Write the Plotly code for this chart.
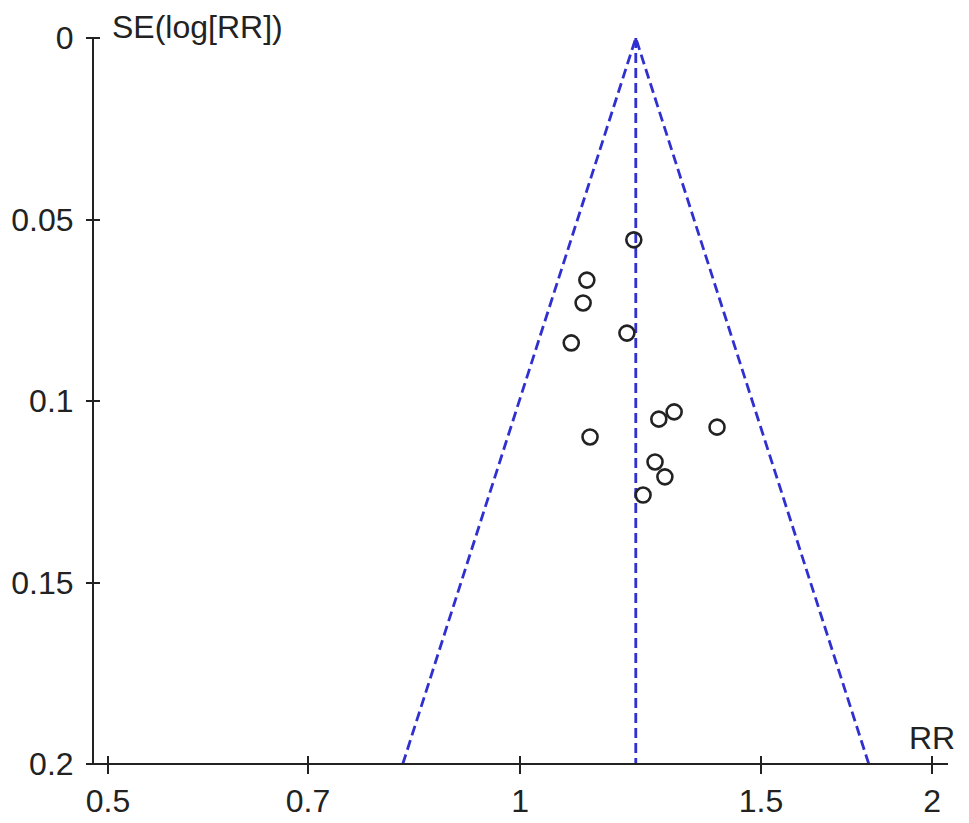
import plotly.graph_objects as go
import numpy as np

# Study data
rr = [1.211, 1.119, 1.112, 1.197, 1.090, 1.125, 1.263, 1.296, 1.393, 1.255, 1.276, 1.230]
se = [0.0556, 0.0667, 0.0730, 0.0813, 0.0840, 0.1099, 0.1050, 0.1030, 0.1072, 0.1168, 0.1209, 0.1259]
pooled_rr = 1.215
se_max = 0.2

x_tickvals = [0.5, 0.7, 1, 1.5, 2]
x_ticktext = ["0.5", "0.7", "1", "1.5", "2"]
y_tickvals = [0, 0.05, 0.1, 0.15, 0.2]
y_ticktext = ["0", "0.05", "0.1", "0.15", "0.2"]

FONT = "Liberation Sans, Arial, Helvetica, sans-serif"
FS = 32
BLUE = "#3030d0"
DARK = "#222222"

# funnel limits (95% pseudo-confidence)
funnel_x = [pooled_rr * np.exp(-1.96 * se_max), pooled_rr, pooled_rr * np.exp(1.96 * se_max)]
funnel_y = [se_max, 0, se_max]

fig = go.Figure()
fig.add_trace(go.Scatter(x=funnel_x, y=funnel_y, mode="lines",
                         line=dict(color=BLUE, width=2.8, dash="10px,5px"),
                         hoverinfo="skip", showlegend=False, cliponaxis=False))
fig.add_trace(go.Scatter(x=[pooled_rr, pooled_rr], y=[0, se_max], mode="lines",
                         line=dict(color=BLUE, width=2.8, dash="10px,5px"),
                         hoverinfo="skip", showlegend=False, cliponaxis=False))
fig.add_trace(go.Scatter(x=rr, y=se, mode="markers",
                         marker=dict(symbol="circle-open", size=15, color=DARK,
                                     line=dict(color=DARK, width=2.6)),
                         showlegend=False, cliponaxis=False))

xr = [-0.312, 0.3127]
yr = [se_max, 0]
W_PLOT = 855
H_PLOT = 726
XT_HALF = 9   # half length of the crossing x ticks (px)
YT_HALF = 7   # half length of the crossing y ticks (px)

fig.update_layout(
    width=969, height=823,
    margin=dict(l=93, r=21, t=38, b=59, autoexpand=False),
    paper_bgcolor="white", plot_bgcolor="white",
    font=dict(family=FONT, size=FS, color=DARK),
    # axes placed a few pixels inside so their ticks cross the axis lines
    xaxis=dict(type="log", range=xr, tickvals=x_tickvals, ticktext=x_ticktext,
               anchor="free", position=XT_HALF / H_PLOT,
               showgrid=False, zeroline=False, showline=False,
               ticks="outside", ticklen=2 * XT_HALF, tickwidth=2, tickcolor=DARK,
               ticklabelstandoff=0, fixedrange=True),
    yaxis=dict(range=yr, tickvals=y_tickvals, ticktext=y_ticktext,
               anchor="free", position=YT_HALF / W_PLOT,
               showgrid=False, zeroline=False, showline=False,
               ticks="outside", ticklen=2 * YT_HALF, tickwidth=2, tickcolor=DARK,
               ticklabelstandoff=6, fixedrange=True),
    shapes=[
        # axis lines
        dict(type="line", xref="paper", yref="paper", x0=-7 / W_PLOT, x1=1, y0=0, y1=0,
             line=dict(color=DARK, width=2)),
        dict(type="line", xref="paper", yref="paper", x0=0, x1=0, y0=0, y1=1,
             line=dict(color=DARK, width=2)),
    ],
    annotations=[
        dict(text="SE(log[RR])", xref="paper", yref="paper", x=0.02, y=1,
             xanchor="left", yanchor="middle", yshift=11, showarrow=False,
             font=dict(family=FONT, size=FS, color=DARK)),
        dict(text="RR", xref="paper", yref="paper", x=1.011, y=0.036,
             xanchor="right", yanchor="middle", showarrow=False,
             font=dict(family=FONT, size=FS, color=DARK)),
    ],
)

fig.write_html("out.html", config={"displayModeBar": False},
               post_script="document.body.style.margin='0';")
